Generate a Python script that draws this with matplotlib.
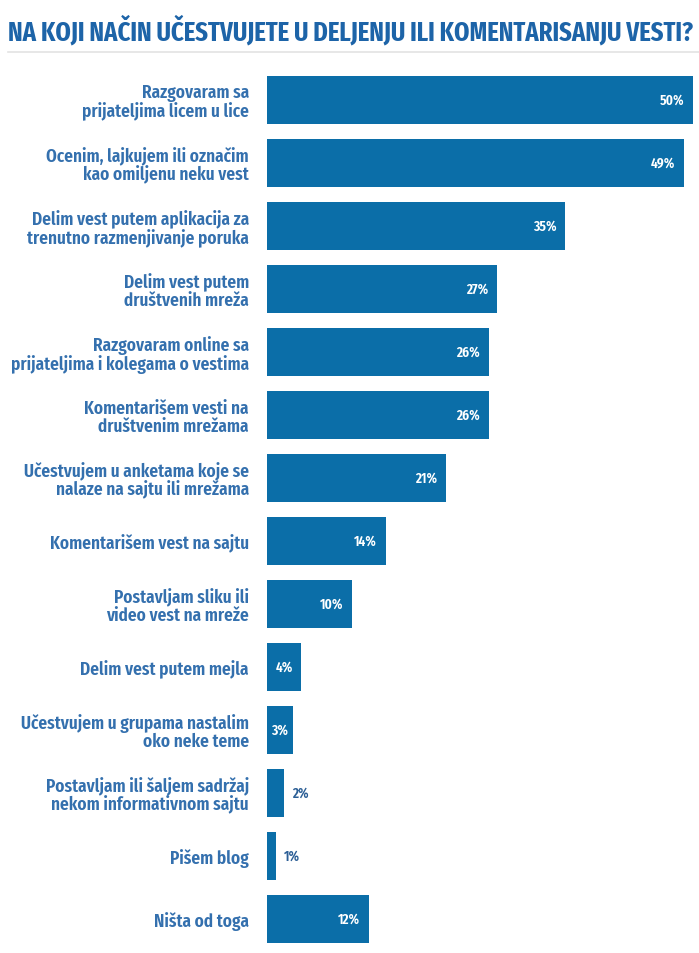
import matplotlib
matplotlib.use("Agg")
import matplotlib.pyplot as plt
from matplotlib.transforms import offset_copy

# podaci sa grafika
labels = [
    "Razgovaram sa\nprijateljima licem u lice",
    "Ocenim, lajkujem ili označim\nkao omiljenu neku vest",
    "Delim vest putem aplikacija za\ntrenutno razmenjivanje poruka",
    "Delim vest putem\ndruštvenih mreža",
    "Razgovaram online sa\nprijateljima i kolegama o vestima",
    "Komentarišem vesti na\ndruštvenim mrežama",
    "Učestvujem u anketama koje se\nnalaze na sajtu ili mrežama",
    "Komentarišem vest na sajtu",
    "Postavljam sliku ili\nvideo vest na mreže",
    "Delim vest putem mejla",
    "Učestvujem u grupama nastalim\noko neke teme",
    "Postavljam ili šaljem sadržaj\nnekom informativnom sajtu",
    "Pišem blog",
    "Ništa od toga",
]
values = [50, 49, 35, 27, 26, 26, 21, 14, 10, 4, 3, 2, 1, 12]
title = "NA KOJI NAČIN UČESTVUJETE U DELJENJU ILI KOMENTARISANJU VESTI?"

BAR = "#0b6ea8"
TITLE_C = "#1d64a8"
LABEL_C = "#3470ae"
FONT = ["Fira Sans Extra Condensed", "Roboto Condensed", "DejaVu Sans"]

plt.rcParams["font.family"] = FONT

W, H = 699, 954
fig = plt.figure(figsize=(W / 100, H / 100), dpi=100)

# osa za stubice (pozicije u pikselima preracunate u udeo figure)
left, right, top, bottom = 267, 699, 64, 954
ax = fig.add_axes([left / W, 1 - bottom / H, (right - left) / W, (bottom - top) / H])

ypos = list(range(len(values)))
ax.barh(ypos, values, height=0.76, color=BAR)
ax.set_xlim(0, 50 * (right - left) / 426)
ax.set_ylim(13 + (bottom - 920) / 63, -(101 - top) / 63)

ax.set_yticks(ypos)
ax.set_yticklabels(labels, fontsize=13.5, fontweight="semibold", color=LABEL_C,
                   linespacing=1.0)
ax.tick_params(axis="y", length=0, pad=13)
ax.tick_params(axis="x", bottom=False, labelbottom=False)
for s in ax.spines.values():
    s.set_visible(False)

for y, v in zip(ypos, values):
    if v >= 5:
        tr = offset_copy(ax.transData, fig=fig, x=-9, y=0, units="dots")
        ax.text(v, y, f"{v}%", transform=tr, ha="right", va="center",
                color="white", fontsize=10.5, fontweight="semibold")
    elif v >= 3:
        # uski stubici: oznaka na sredini
        ax.text(v / 2, y, f"{v}%", ha="center", va="center",
                color="white", fontsize=10.5, fontweight="semibold")
    else:
        tr = offset_copy(ax.transData, fig=fig, x=8, y=0, units="dots")
        ax.text(v, y, f"{v}%", transform=tr, ha="left", va="center",
                color="#2c5f96", fontsize=10.5, fontweight="semibold")

# naslov i linija ispod
fig.text(8 / W, 1 - 31 / H, title, ha="left", va="center", fontsize=19.2,
         fontweight="bold", color=TITLE_C)
fig.add_artist(plt.Line2D([8 / W, 1], [1 - 53 / H] * 2, color="#e3e3e3", lw=1.2))

fig.savefig("out.png", dpi=100)
